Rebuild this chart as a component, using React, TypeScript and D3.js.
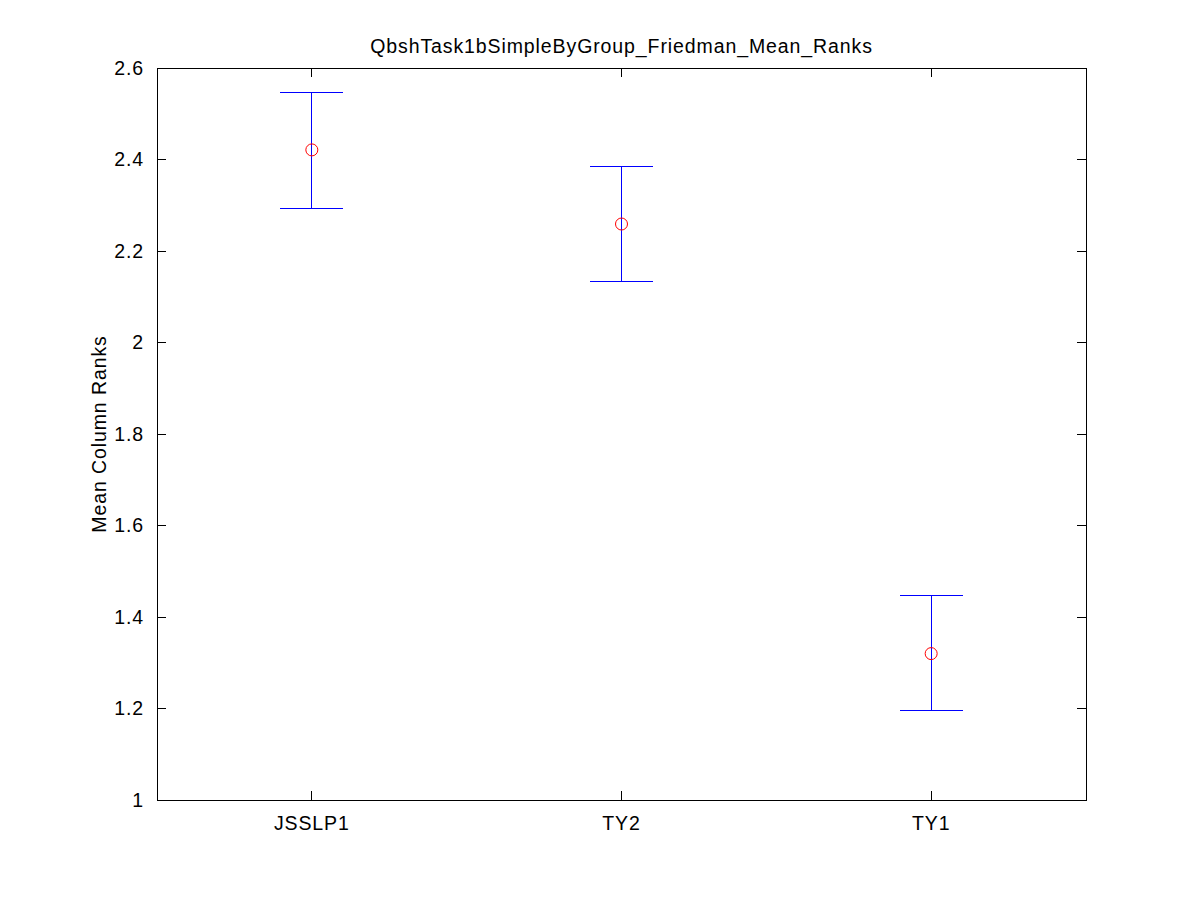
import React from "react";
import * as d3 from "d3";

const categories = ["JSSLP1", "TY2", "TY1"];
const meanRanks = [2.421, 2.259, 1.320];
const lowerBounds = [2.293, 2.133, 1.195];
const upperBounds = [2.547, 2.385, 1.446];
const yTicks = [1, 1.2, 1.4, 1.6, 1.8, 2, 2.2, 2.4, 2.6];
const title = "QbshTask1bSimpleByGroup_Friedman_Mean_Ranks";
const yLabel = "Mean Column Ranks";

const W = 1200, H = 900;
const L = 157, R = 1086, T = 68, B = 800;
const font = "'Liberation Sans', Arial, Helvetica, sans-serif";
const fs = 19.5;
const ls = 0.9;

export default function App() {
  const x = d3.scaleLinear().domain([0.5, categories.length + 0.5]).range([L, R]);
  const y = d3.scaleLinear().domain([1, 2.6]).range([B, T]);
  const tl = 9;
  const capHalf = 31.5;
  return (
    <svg width={W} height={H} style={{ position: "absolute", left: 0, top: 0, background: "#fff" }}>
      <rect x={0} y={0} width={W} height={H} fill="#fff" />
      <rect x={L} y={T} width={R - L} height={B - T} fill="none" stroke="#000" strokeWidth={1} shapeRendering="crispEdges" />
      {yTicks.map((t) => (
        <g key={t}>
          <line x1={L} x2={L + tl} y1={y(t)} y2={y(t)} stroke="#000" shapeRendering="crispEdges" />
          <line x1={R} x2={R - tl} y1={y(t)} y2={y(t)} stroke="#000" shapeRendering="crispEdges" />
          <text x={L - 13} y={y(t)} dy="0.35em" textAnchor="end" fontFamily={font} fontSize={fs} letterSpacing={ls}>
            {String(t)}
          </text>
        </g>
      ))}
      {categories.map((c, i) => (
        <g key={c}>
          <line x1={x(i + 1)} x2={x(i + 1)} y1={B} y2={B - tl} stroke="#000" shapeRendering="crispEdges" />
          <line x1={x(i + 1)} x2={x(i + 1)} y1={T} y2={T + tl} stroke="#000" shapeRendering="crispEdges" />
          <text x={x(i + 1)} y={823} dy="0.35em" textAnchor="middle" fontFamily={font} fontSize={fs} letterSpacing={ls}>
            {c}
          </text>
        </g>
      ))}
      {categories.map((c, i) => {
        const cx = x(i + 1);
        return (
          <g key={"e" + c}>
            <line x1={cx} x2={cx} y1={y(lowerBounds[i])} y2={y(upperBounds[i])} stroke="#0000ff" shapeRendering="crispEdges" />
            <line x1={cx - capHalf} x2={cx + capHalf} y1={y(lowerBounds[i])} y2={y(lowerBounds[i])} stroke="#0000ff" shapeRendering="crispEdges" />
            <line x1={cx - capHalf} x2={cx + capHalf} y1={y(upperBounds[i])} y2={y(upperBounds[i])} stroke="#0000ff" shapeRendering="crispEdges" />
            <circle cx={cx} cy={y(meanRanks[i])} r={6} fill="none" stroke="#ff0000" strokeWidth={1} />
          </g>
        );
      })}
      <text x={(L + R) / 2} y={46} dy="0.35em" textAnchor="middle" fontFamily={font} fontSize={fs} letterSpacing={ls}>
        {title}
      </text>
      <text transform={`translate(99, ${(T + B) / 2}) rotate(-90)`} dy="0.35em" textAnchor="middle" fontFamily={font} fontSize={fs} letterSpacing={ls}>
        {yLabel}
      </text>
    </svg>
  );
}
